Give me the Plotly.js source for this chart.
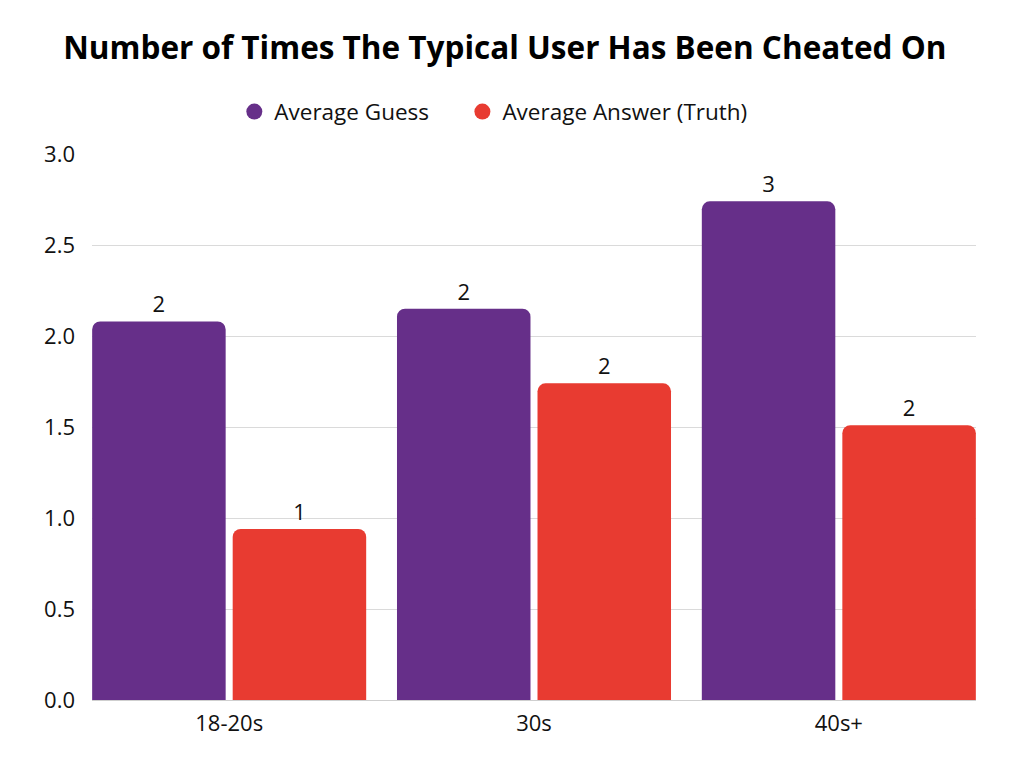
<!DOCTYPE html>
<html>
<head>
<meta charset="utf-8">
<script src="https://cdn.plot.ly/plotly-3.0.1.min.js"></script>
<style>
  html, body { margin: 0; padding: 0; background: #fff; }
  #chart { width: 1024px; height: 768px; }
</style>
</head>
<body>
<div id="chart"></div>
<script>
let ageGroups = ['18-20s', '30s', '40s+'];
let averageGuess = [2.08, 2.15, 2.74];
let averageAnswer = [0.94, 1.74, 1.51];

let purple = '#662F89';
let red = '#E83B31';

var traceGuess = {
  x: ageGroups,
  y: averageGuess,
  name: 'Average Guess',
  type: 'bar',
  marker: { color: purple },
  texttemplate: '%{y:.0f}',
  textposition: 'outside',
  textfont: { size: 22, color: '#111' },
  cliponaxis: false,
  showlegend: false,
  hoverinfo: 'x+y'
};

var traceAnswer = {
  x: ageGroups,
  y: averageAnswer,
  name: 'Average Answer (Truth)',
  type: 'bar',
  marker: { color: red },
  texttemplate: '%{y:.0f}',
  textposition: 'outside',
  textfont: { size: 22, color: '#111' },
  cliponaxis: false,
  showlegend: false,
  hoverinfo: 'x+y'
};

// legend only entries, so the legend gets round markers
var legendGuess = {
  x: [null], y: [null], type: 'scatter', mode: 'markers', legend: 'legend',
  name: 'Average Guess', marker: { color: purple, size: 22, symbol: 'circle' }
};
var legendAnswer = {
  x: [null], y: [null], type: 'scatter', mode: 'markers', legend: 'legend2',
  name: 'Average Answer (Truth)', marker: { color: red, size: 22, symbol: 'circle' }
};

var legendStyle = {
  orientation: 'h',
  xanchor: 'left',
  y: 1.077, yanchor: 'middle',
  font: { size: 22.5 },
  itemsizing: 'trace',
  bgcolor: 'rgba(0,0,0,0)'
};

var layout = {
  width: 1024,
  height: 768,
  paper_bgcolor: '#fff',
  plot_bgcolor: '#fff',
  font: { family: 'Open Sans, sans-serif', color: '#111', size: 22 },
  margin: { l: 92, r: 48, t: 154, b: 68 },
  title: {
    text: '<b>Number of Times The Typical User Has Been Cheated On</b>',
    font: { size: 31.5, color: '#000' },
    x: 0.493, xanchor: 'center',
    y: 0.937, yanchor: 'middle'
  },
  barmode: 'group',
  bargap: 0.078,
  bargroupgap: 0.05,
  barcornerradius: 8,
  showlegend: true,
  legend: Object.assign({}, legendStyle, { x: 0.161 }),
  legend2: Object.assign({}, legendStyle, { x: 0.419 }),
  xaxis: {
    type: 'category',
    range: [-0.45, 2.45],
    showgrid: false,
    showline: true,
    linecolor: '#cfcfcf',
    ticks: '',
    ticklabelstandoff: 4,
    tickfont: { size: 22 },
    fixedrange: true
  },
  yaxis: {
    range: [0, 3],
    dtick: 0.5,
    tickformat: '.1f',
    gridcolor: '#dadada',
    gridwidth: 1,
    zeroline: false,
    showline: false,
    ticks: '',
    ticklabelstandoff: 16,
    tickfont: { size: 22 },
    fixedrange: true
  }
};

Plotly.newPlot('chart', [traceGuess, traceAnswer, legendGuess, legendAnswer], layout, { displayModeBar: false, staticPlot: true });
</script>
</body>
</html>
